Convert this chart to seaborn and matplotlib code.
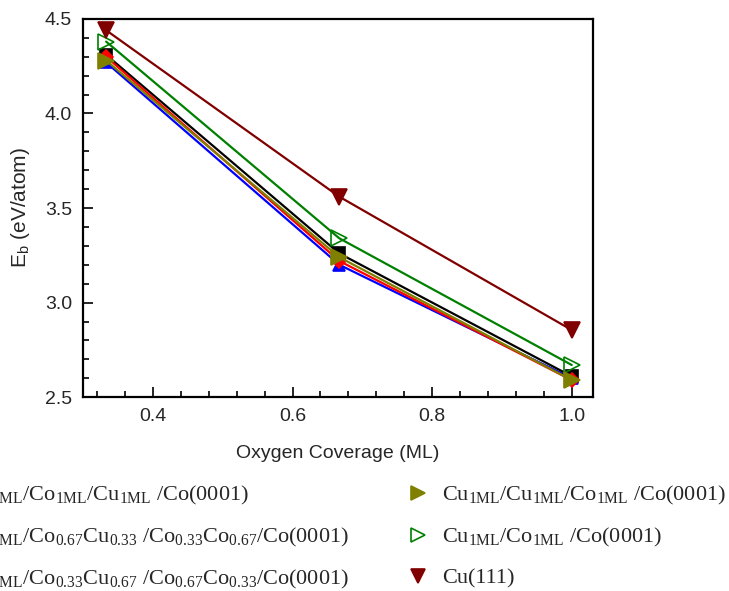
import matplotlib
matplotlib.use("Agg")
import matplotlib.pyplot as plt
from matplotlib.lines import Line2D
from matplotlib.ticker import MultipleLocator
import pandas as pd
import seaborn as sns

# oxygen coverage (ML) and binding energies (eV/atom)
coverage = [0.333, 0.667, 1.0]
labels = [
    "Cu$_{1ML}$/Co$_{1ML}$/Cu$_{1ML}$ /Co(0001)",
    "Cu$_{1ML}$/Co$_{0.67}$Cu$_{0.33}$ /Co$_{0.33}$Co$_{0.67}$/Co(0001)",
    "Cu$_{1ML}$/Co$_{0.33}$Cu$_{0.67}$ /Co$_{0.67}$Co$_{0.33}$/Co(0001)",
    "Cu$_{1ML}$/Cu$_{1ML}$/Co$_{1ML}$ /Co(0001)",
    "Cu$_{1ML}$/Co$_{1ML}$ /Co(0001)",
    "Cu(111)",
]
eb_black = [4.31, 3.26, 2.61]
eb_red = [4.30, 3.22, 2.59]
eb_blue = [4.27, 3.20, 2.60]
eb_olive = [4.28, 3.24, 2.59]
eb_green = [4.38, 3.34, 2.67]
eb_cu111 = [4.44, 3.56, 2.855]
values = [eb_black, eb_red, eb_blue, eb_olive, eb_green, eb_cu111]

colors = ["black", "#ff0000", "#0000ff", "#808000", "#008000", "#800000"]
markers = ["s", "D", "^", ">", ">", "v"]
msizes = [9, 7, 9, 11, 11, 11]
filled = [True, True, True, True, False, True]
zorders = [3, 4, 2, 5, 3, 3]

sns.set_style("ticks")
plt.rcParams["font.family"] = ["Liberation Sans", "DejaVu Sans"]
plt.rcParams["mathtext.default"] = "regular"

fig = plt.figure(figsize=(7.29, 5.91), dpi=100)
ax = fig.add_axes([0.114, 0.328, 0.699, 0.640])

handles = []
for i in range(6):
    df = pd.DataFrame({"x": coverage, "y": values[i]})
    mfc = colors[i] if filled[i] else "none"
    sns.lineplot(data=df, x="x", y="y", ax=ax, color=colors[i], lw=1.6,
                 marker=markers[i], ms=msizes[i], mfc=mfc, mec=colors[i],
                 mew=1.2, zorder=zorders[i])
    handles.append(Line2D([], [], ls="none", marker=markers[i],
                          ms=msizes[i] - 1, color=colors[i], mfc=mfc,
                          mec=colors[i], mew=1.2))

ax.set_xlim(0.30, 1.03)
ax.set_ylim(2.5, 4.5)
ax.xaxis.set_major_locator(MultipleLocator(0.2))
ax.xaxis.set_minor_locator(MultipleLocator(0.04))
ax.yaxis.set_major_locator(MultipleLocator(0.5))
ax.yaxis.set_minor_locator(MultipleLocator(0.1))
ax.tick_params(which="both", direction="in", top=False, right=False,
               labelsize=14, width=1.2, color="black", pad=8)
ax.tick_params(which="major", length=7)
ax.tick_params(which="minor", length=4)
for s in ax.spines.values():
    s.set_linewidth(1.6)
    s.set_color("black")

ax.set_xlabel("Oxygen Coverage (ML)", fontsize=14, labelpad=14)
ax.set_ylabel("E$_b$ (eV/atom)", fontsize=15, labelpad=9)

fig.legend(handles, labels, ncol=2, loc="upper right",
           bbox_to_anchor=(1.011, 0.200), frameon=False, borderpad=0,
           prop={"family": "Liberation Serif", "size": 16},
           handletextpad=0.6, columnspacing=2.6, labelspacing=0.86,
           handlelength=1.0)

fig.savefig("out.png", dpi=100)
